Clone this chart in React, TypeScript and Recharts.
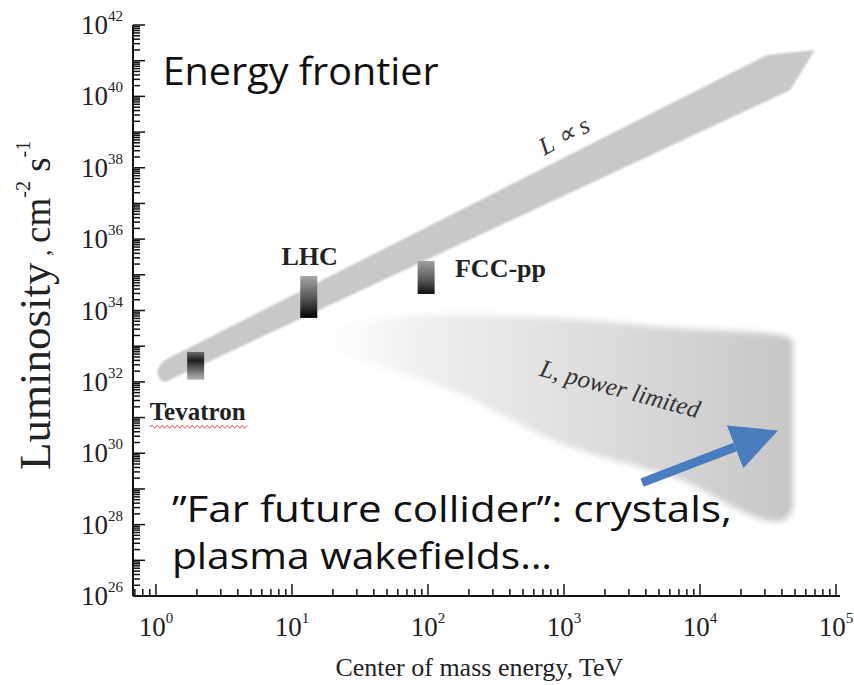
import { ComposedChart, Area, Bar, Cell, Line, XAxis, YAxis, ReferenceDot } from "recharts";

// "L ∝ s" band: energy (TeV) with lower / upper edge of luminosity (cm^-2 s^-1)
const sBandEnergy = [1.02, 1.07, 1.17, 31000, 46000, 70000];
const sBandLow = [1.9e32, 1.15e32, 1.0e32, 7.4e39, 1.5e40, 2.0e41];
const sBandHigh = [1.9e32, 3.0e32, 4.2e32, 1.45e41, 1.7e41, 2.0e41];

// "L, power limited" fan
const powerEnergy = [8.9, 26.7, 145, 935, 7130, 38700, 48300];
const powerLow = [2.1e33, 5.0e32, 6.0e31, 1.95e30, 1.8e29, 1.2e28, 2.6e28];
const powerHigh = [2.5e33, 4.8e33, 7.6e33, 6.2e33, 3.2e33, 2.1e33, 1.5e33];

// collider boxes
const colliderNames = ["Tevatron", "LHC", "FCC-pp"];
const colliderEnergy = [1.96, 13.3, 97];
const colliderLow = [1.15e32, 6.2e33, 2.9e34];
const colliderHigh = [6.9e32, 9.3e34, 2.45e35];

// blue arrow (shaft start, shaft end)
const arrowEnergy = [3750, 18100];
const arrowLum = [1.5e29, 1.5e30];

// axes
const xDecades = [1, 10, 100, 1000, 10000, 100000];
const yDecades = [1e26, 1e27, 1e28, 1e29, 1e30, 1e31, 1e32, 1e33, 1e34, 1e35, 1e36, 1e37, 1e38, 1e39, 1e40, 1e41, 1e42];
const minorSteps = [2, 3, 4, 5, 6, 7, 8, 9];
const xDomain = [0.678, 107000];
const yDomain = [1e26, 1e42];

const serif = "'Liberation Serif', 'Times New Roman', serif";
const sans = "'Open Sans', 'Noto Sans', sans-serif";

function logTicks(decades: number[], lo: number, hi: number) {
    const out: number[] = [];
    [decades[0] / 10, ...decades].forEach((d) => {
        out.push(d);
        minorSteps.forEach((m) => out.push(d * m));
    });
    return out.filter((v) => v >= lo && v <= hi * 1.0001).sort((a, b) => a - b);
}

const xTicks = logTicks(xDecades, xDomain[0], xDomain[1]);
const yTicks = logTicks(yDecades, yDomain[0], yDomain[1]);

const sBand = sBandEnergy.map((e, i) => ({ e, range: [sBandLow[i], sBandHigh[i]] }));
const powerFan = powerEnergy.map((e, i) => ({ e, range: [powerLow[i], powerHigh[i]] }));
const colliders = colliderNames.map((name, i) => ({ name, e: colliderEnergy[i], range: [colliderLow[i], colliderHigh[i]] }));
const arrow = arrowEnergy.map((e, i) => ({ e, l: arrowLum[i] }));

function AxisTick(props: any) {
    const { x, y, payload, side } = props;
    const lg = Math.log10(payload.value);
    const exp = Math.round(lg);
    const major = Math.abs(lg - exp) < 1e-6;
    const len = major ? 12 : 7;
    let line = null;
    let label = null;
    if (side === "bottom") {
        line = <line x1={x} x2={x} y1={y} y2={y - len} />;
        if (major)
            label = (
                <text x={x} y={y + 40} textAnchor="middle" fontFamily={serif} fontSize={27} fill="#222">
                    10<tspan dy={-13} fontSize={15}>{exp}</tspan>
                </text>
            );
    } else if (side === "top") {
        line = <line x1={x} x2={x} y1={y} y2={y + len} />;
    } else if (side === "left") {
        line = <line x1={x} x2={x + len} y1={y} y2={y} />;
        if (major && exp % 2 === 0)
            label = (
                <text x={x - 10} y={y + 9} textAnchor="end" fontFamily={serif} fontSize={27} fill="#222">
                    10<tspan dy={-13} fontSize={15}>{exp}</tspan>
                </text>
            );
    } else {
        line = <line x1={x} x2={x - len} y1={y} y2={y} />;
    }
    return (
        <g>
            <g stroke="#111" strokeWidth={1.5}>{line}</g>
            {label}
        </g>
    );
}

function YTitle(props: any) {
    const vb = props.viewBox;
    const cx = vb.x + 50;
    const cy = vb.y + vb.height - 126;
    return (
        <text x={cx} y={cy} transform={`rotate(-90 ${cx} ${cy})`} textAnchor="start" fontFamily={serif} fill="#222">
            <tspan fontSize={45}>Luminosity</tspan>
            <tspan fontSize={26}> , </tspan>
            <tspan fontSize={37}>cm</tspan>
            <tspan dy={-20} fontSize={20}>-2</tspan>
            <tspan dy={20} fontSize={37}> s</tspan>
            <tspan dy={-20} fontSize={20}>-1</tspan>
        </text>
    );
}

function XTitle(props: any) {
    const vb = props.viewBox;
    return (
        <text x={vb.x + vb.width * 0.49} y={vb.y + 80} textAnchor="middle" fontFamily={serif} fontSize={26} fill="#222">
            Center of mass energy, TeV
        </text>
    );
}

// red spell-check squiggle under a word
function squiggle(x0: number, y0: number, w: number) {
    let d = `M${x0},${y0}`;
    for (let i = 0, up = true; i * 2.5 < w; i++, up = !up) d += ` L${x0 + (i + 1) * 2.5},${y0 + (up ? -1.5 : 1.5)}`;
    return d;
}

const note = (content: (cx: number, cy: number) => any) => (p: any) => content(p.cx, p.cy);

export default function App() {
    return (
        <div style={{ position: "absolute", left: 0, top: 0, width: 854, height: 685, background: "#fff" }}>
            <ComposedChart width={854} height={685} data={colliders} margin={{ top: 25, right: 14, bottom: 0, left: 0 }}>
                <defs>
                    <linearGradient id="fanGrad" x1="0" y1="0" x2="1" y2="0">
                        <stop offset="0" stopColor="#ffffff" stopOpacity={0} />
                        <stop offset="0.25" stopColor="#f0f0f0" />
                        <stop offset="0.65" stopColor="#dbdbdb" />
                        <stop offset="1" stopColor="#c6c6c6" />
                    </linearGradient>
                    <linearGradient id="tevGrad" x1="0" y1="0" x2="0" y2="1">
                        <stop offset="0" stopColor="#6a6a6a" />
                        <stop offset="0.3" stopColor="#1e1e1e" />
                        <stop offset="1" stopColor="#b5b5b5" />
                    </linearGradient>
                    <linearGradient id="lhcGrad" x1="0" y1="0" x2="0" y2="1">
                        <stop offset="0" stopColor="#a8a8a8" />
                        <stop offset="0.6" stopColor="#4a4a4a" />
                        <stop offset="1" stopColor="#000000" />
                    </linearGradient>
                    <linearGradient id="fccGrad" x1="0" y1="0" x2="0" y2="1">
                        <stop offset="0" stopColor="#a0a0a0" />
                        <stop offset="0.6" stopColor="#555555" />
                        <stop offset="1" stopColor="#111111" />
                    </linearGradient>
                    <filter id="softBand" x="-5%" y="-5%" width="110%" height="110%">
                        <feGaussianBlur stdDeviation="1.2" />
                    </filter>
                    <filter id="softFan" x="-10%" y="-10%" width="120%" height="120%">
                        <feGaussianBlur stdDeviation="3" />
                    </filter>
                    <filter id="softBox" x="-20%" y="-10%" width="140%" height="120%">
                        <feGaussianBlur stdDeviation="0.7" />
                    </filter>
                    <marker id="arrowHead" markerUnits="userSpaceOnUse" markerWidth={46} markerHeight={46} refX={0} refY={23} orient="auto" viewBox="0 0 46 46">
                        <path d="M0,0 L46,23 L0,46 z" fill="#4a7dbd" />
                    </marker>
                </defs>

                <XAxis
                    dataKey="e"
                    type="number"
                    scale="log"
                    domain={xDomain}
                    allowDataOverflow
                    ticks={xTicks}
                    interval={0}
                    height={89}
                    tickSize={0}
                    tickMargin={0}
                    tickLine={false}
                    axisLine={{ stroke: "#111", strokeWidth: 2 }}
                    tick={(p: any) => <AxisTick {...p} side="bottom" />}
                    label={XTitle}
                />
                <XAxis
                    xAxisId="top"
                    orientation="top"
                    dataKey="e"
                    type="number"
                    scale="log"
                    domain={xDomain}
                    allowDataOverflow
                    ticks={xTicks}
                    interval={0}
                    height={0}
                    tickSize={0}
                    tickMargin={0}
                    tickLine={false}
                    axisLine={{ stroke: "#111", strokeWidth: 2 }}
                    tick={(p: any) => <AxisTick {...p} side="top" />}
                />
                {/* hidden axis for the collider boxes, decade ticks only so the bar band is wide */}
                <XAxis
                    xAxisId="boxes"
                    dataKey="e"
                    type="number"
                    scale="log"
                    domain={xDomain}
                    allowDataOverflow
                    ticks={xDecades}
                    height={0}
                    hide
                />
                <YAxis
                    type="number"
                    scale="log"
                    domain={yDomain}
                    allowDataOverflow
                    ticks={yTicks}
                    interval={0}
                    width={133}
                    tickSize={0}
                    tickMargin={0}
                    tickLine={false}
                    axisLine={{ stroke: "#111", strokeWidth: 2 }}
                    tick={(p: any) => <AxisTick {...p} side="left" />}
                    label={YTitle}
                />
                <YAxis
                    yAxisId="right"
                    orientation="right"
                    type="number"
                    scale="log"
                    domain={yDomain}
                    allowDataOverflow
                    ticks={yTicks}
                    interval={0}
                    width={0}
                    tickSize={0}
                    tickMargin={0}
                    tickLine={false}
                    axisLine={{ stroke: "#111", strokeWidth: 2 }}
                    tick={(p: any) => <AxisTick {...p} side="right" />}
                />

                <Area
                    data={powerFan}
                    dataKey="range"
                    type="monotone"
                    stroke="none"
                    fill="url(#fanGrad)"
                    fillOpacity={1}
                    filter="url(#softFan)"
                    isAnimationActive={false}
                />
                <Area
                    data={sBand}
                    dataKey="range"
                    type="linear"
                    stroke="none"
                    fill="#c8c8c8"
                    fillOpacity={1}
                    filter="url(#softBand)"
                    isAnimationActive={false}
                />
                <Bar xAxisId="boxes" dataKey="range" barSize={17} filter="url(#softBox)" isAnimationActive={false}>
                    <Cell fill="url(#tevGrad)" />
                    <Cell fill="url(#lhcGrad)" />
                    <Cell fill="url(#fccGrad)" />
                </Bar>
                <Line
                    data={arrow}
                    dataKey="l"
                    type="linear"
                    stroke="#4a7dbd"
                    strokeWidth={9}
                    dot={false}
                    markerEnd="url(#arrowHead)"
                    isAnimationActive={false}
                />
                <Line
                    data={arrow}
                    dataKey="l"
                    xAxisId="top"
                    yAxisId="right"
                    stroke="none"
                    dot={false}
                    isAnimationActive={false}
                />

                <ReferenceDot
                    x={1.12}
                    y={2.1e40}
                    r={0}
                    shape={note((cx, cy) => (
                        <text x={cx} y={cy} fontFamily={sans} fontSize={38} textLength={276} lengthAdjust="spacingAndGlyphs" fill="#111">Energy frontier</text>
                    ))}
                />
                <ReferenceDot
                    x={1.31}
                    y={1.2e28}
                    r={0}
                    shape={note((cx, cy) => (
                        <g fill="#111" fontFamily={sans} fontSize={37}>
                            <text x={cx} y={cy} textLength={560} lengthAdjust="spacingAndGlyphs">”Far future collider”: crystals,</text>
                            <text x={cx} y={cy + 47} textLength={380} lengthAdjust="spacingAndGlyphs">plasma wakefields…</text>
                        </g>
                    ))}
                />
                <ReferenceDot
                    x={13.5}
                    y={1.9e35}
                    r={0}
                    shape={note((cx, cy) => (
                        <text x={cx} y={cy} textAnchor="middle" fontFamily={serif} fontWeight="bold" fontSize={26} fill="#222">LHC</text>
                    ))}
                />
                <ReferenceDot
                    x={158}
                    y={8.7e34}
                    r={0}
                    shape={note((cx, cy) => (
                        <text x={cx} y={cy} fontFamily={serif} fontWeight="bold" fontSize={26} fill="#222">FCC-pp</text>
                    ))}
                />
                <ReferenceDot
                    x={0.9}
                    y={8.7e30}
                    r={0}
                    shape={note((cx, cy) => (
                        <g>
                            <text x={cx} y={cy} fontFamily={serif} fontWeight="bold" fontSize={25} fill="#222">Tevatron</text>
                            <path d={squiggle(cx, cy + 7, 96)} fill="none" stroke="#e05555" strokeWidth={1} />
                        </g>
                    ))}
                />
                <ReferenceDot
                    x={1070}
                    y={4.9e38}
                    r={0}
                    shape={note((cx, cy) => (
                        <text x={cx} y={cy} transform={`rotate(-28 ${cx} ${cy})`} textAnchor="middle" fontFamily={serif} fontStyle="italic" fontSize={25} fill="#333">L ∝ s</text>
                    ))}
                />
                <ReferenceDot
                    x={2500}
                    y={3.8e31}
                    r={0}
                    shape={note((cx, cy) => (
                        <text x={cx} y={cy} transform={`rotate(15 ${cx} ${cy})`} textAnchor="middle" fontFamily={serif} fontStyle="italic" fontSize={25} fill="#333">L, power limited</text>
                    ))}
                />
            </ComposedChart>
        </div>
    );
}
